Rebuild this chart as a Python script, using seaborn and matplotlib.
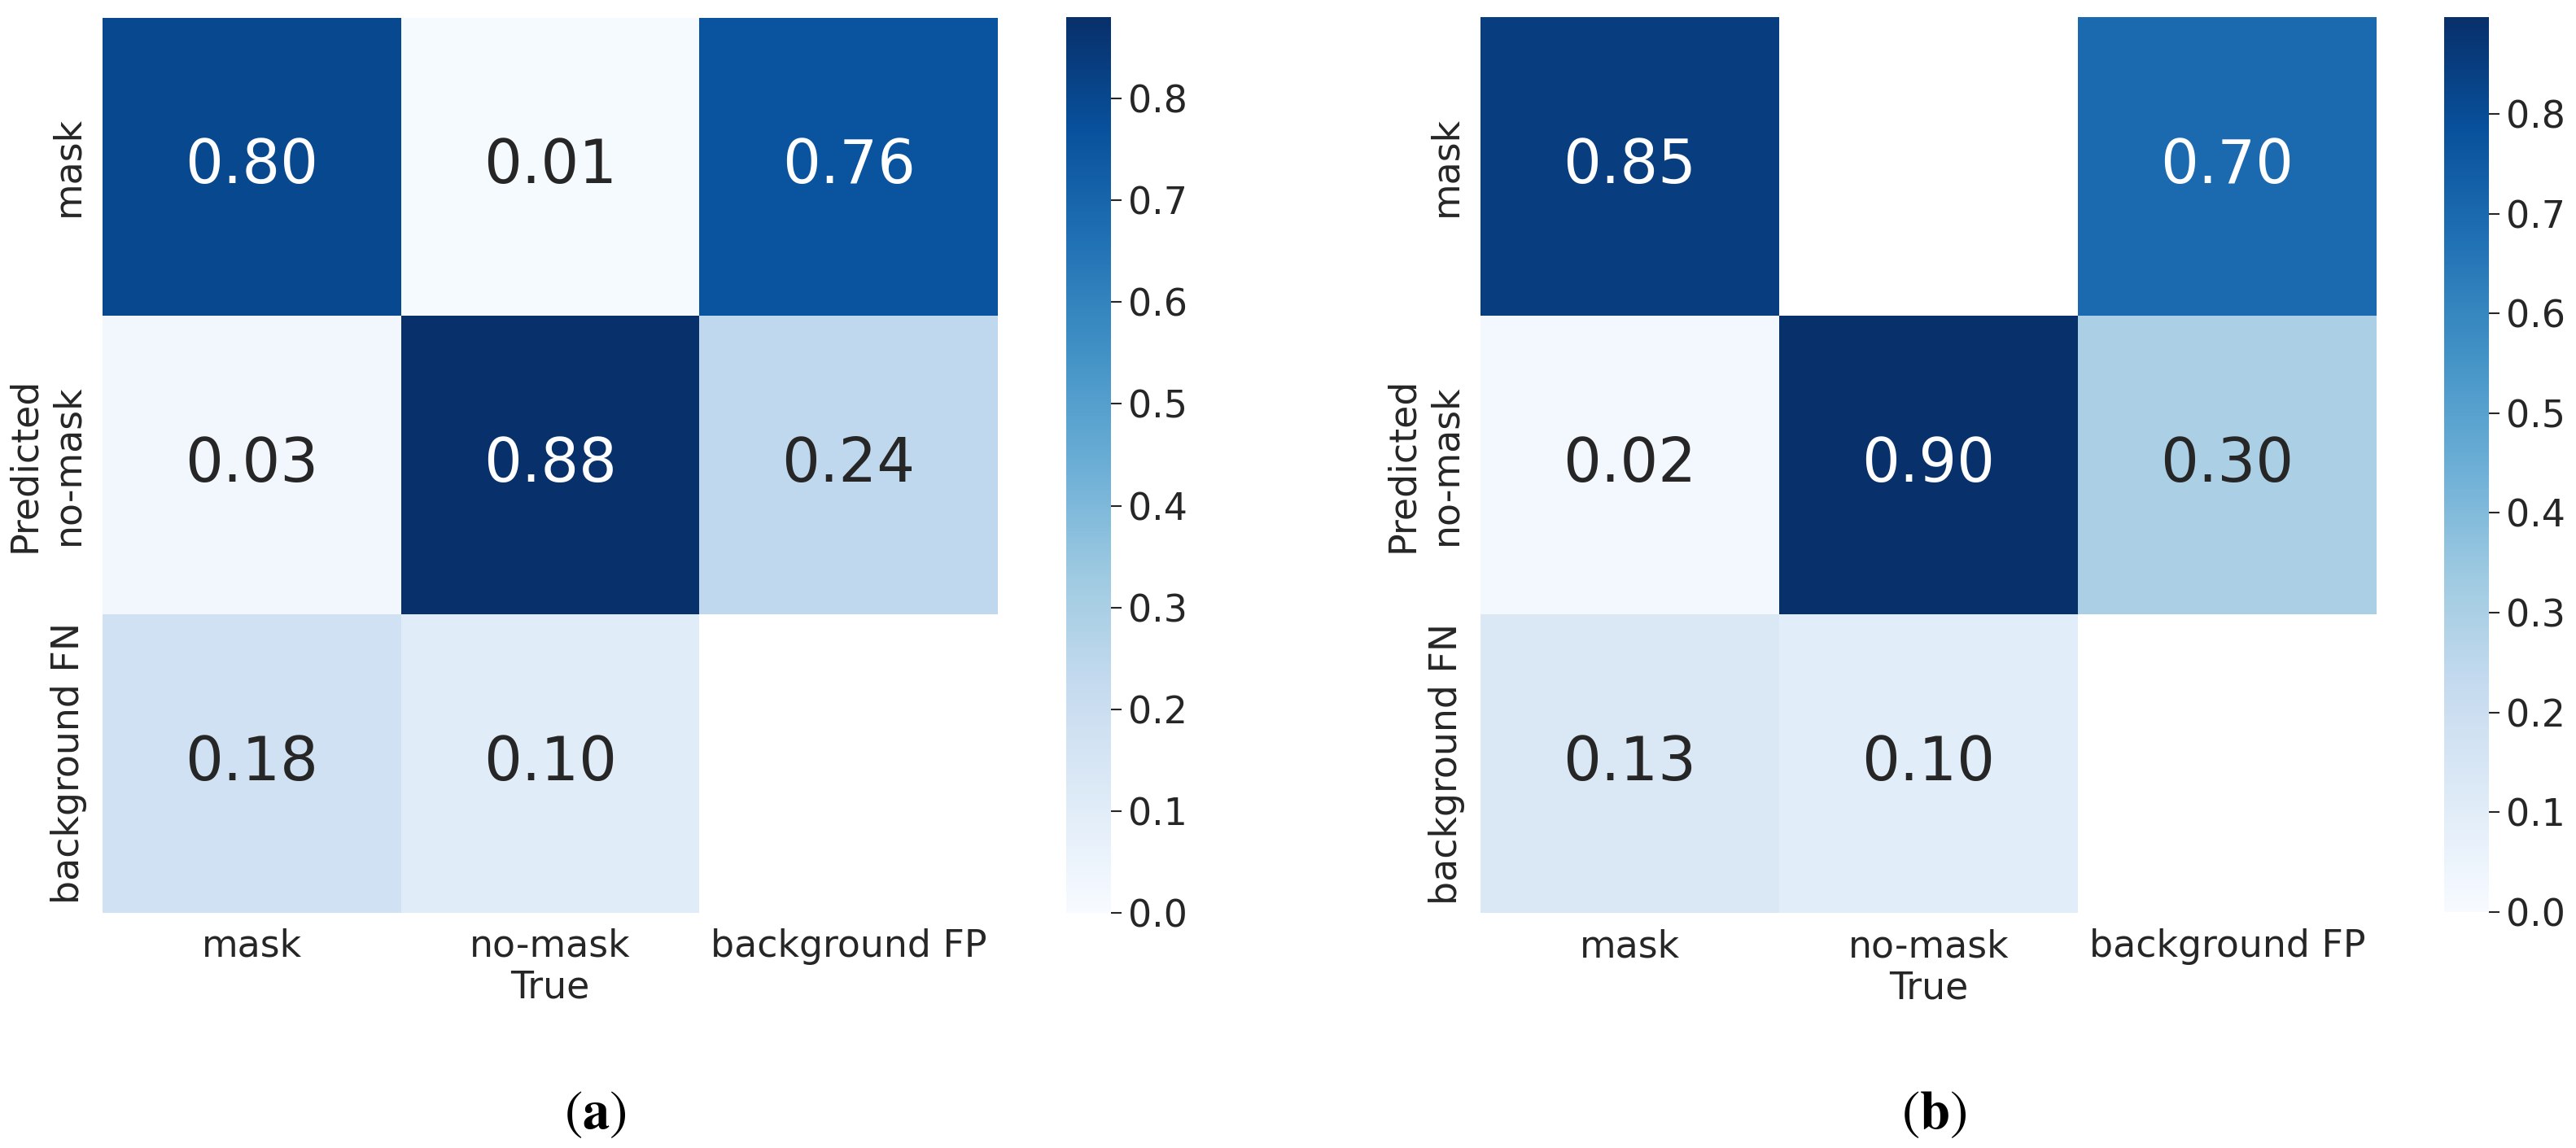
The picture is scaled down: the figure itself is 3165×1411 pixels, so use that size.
import numpy as np
import pandas as pd
import seaborn as sns
import matplotlib
matplotlib.use('Agg')
import matplotlib.pyplot as plt

# confusion matrices (rows: Predicted, cols: True), blank cells are nan
true_names = ['mask', 'no-mask', 'background FP']
pred_names = ['mask', 'no-mask', 'background FN']
cm_a = [[0.80, 0.01, 0.76],
        [0.03, 0.88, 0.24],
        [0.18, 0.10, np.nan]]
cm_b = [[0.85, np.nan, 0.70],
        [0.02, 0.897, 0.30],
        [0.13, 0.10, np.nan]]
panel_tags = ['a', 'b']

sns.set_theme(style='white')
plt.rcParams['font.family'] = ['DejaVu Sans']
plt.rcParams['mathtext.fontset'] = 'stix'

W, H = 3165, 1411
fig = plt.figure(figsize=(W / 100, H / 100), dpi=100)

def box(x0, y0, x1, y1):
    return [x0 / W, 1 - y1 / H, (x1 - x0) / W, (y1 - y0) / H]

ax_pos = [box(126, 21, 1226, 1122), box(1819, 21, 2920, 1122)]
cax_pos = [box(1310, 21, 1365, 1122), box(3003, 21, 3058, 1121)]
tag_x = [731, 2376]

for cm, apos, cpos, tag, tx in zip([cm_a, cm_b], ax_pos, cax_pos, panel_tags, tag_x):
    ax = fig.add_axes(apos)
    cax = fig.add_axes(cpos)
    df = pd.DataFrame(cm, index=pred_names, columns=true_names)
    sns.heatmap(df, ax=ax, cbar_ax=cax, annot=True, fmt='.2f', cmap='Blues',
                vmin=0.0, square=True, annot_kws={'size': 53})
    ax.set_xlabel('True', fontsize=33, labelpad=4, color='.15')
    ax.set_ylabel('Predicted', fontsize=33, labelpad=6, color='.15')
    ax.tick_params(axis='both', length=0, pad=14, labelsize=33, colors='.15')
    cax.tick_params(axis='y', length=9, width=1.5, pad=6, labelsize=33,
                    colors='.15', right=True)
    cax.yaxis.set_major_locator(matplotlib.ticker.MultipleLocator(0.1))
    fig.text(tx / W, 1 - 1368 / H, r'$(\mathbf{' + tag + '})$', ha='center', va='center',
             fontsize=48, color='black')

fig.savefig('out.png', dpi=100)
